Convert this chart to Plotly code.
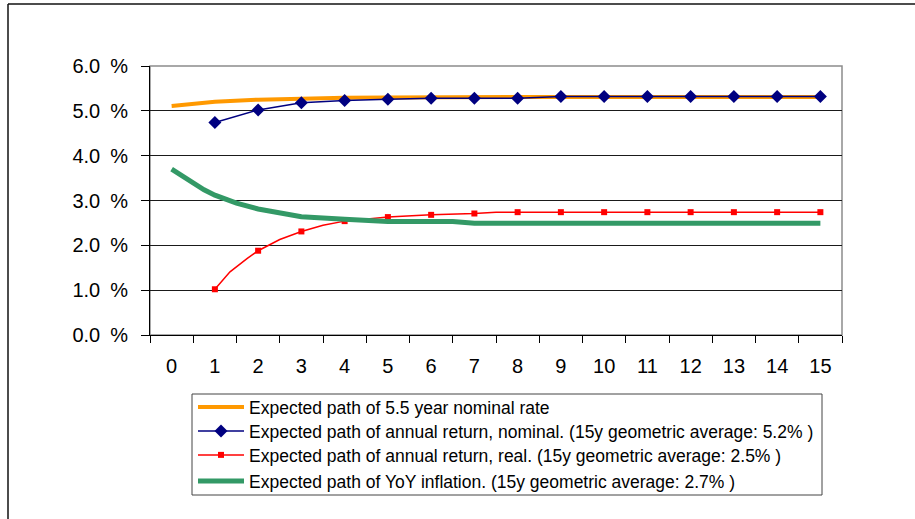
import plotly.graph_objects as go

# ---- data (years ahead, percent) ----
categories = list(range(0, 16))
tick_labels = [str(c) for c in categories]
y_tick_vals = [0, 1, 2, 3, 4, 5, 6]
y_tick_text = ["0.0\u2002%", "1.0\u2002%", "2.0\u2002%", "3.0\u2002%",
               "4.0\u2002%", "5.0\u2002%", "6.0\u2002%"]

nominal_rate_x = [0, 1, 2, 3, 4, 5, 6, 7, 8, 9, 10, 11, 12, 13, 14, 15]
nominal_rate_y = [5.11, 5.20, 5.25, 5.28, 5.29, 5.30, 5.31, 5.31, 5.31, 5.31,
                  5.31, 5.31, 5.31, 5.31, 5.31, 5.31]

return_nominal_x = [1, 2, 3, 4, 5, 6, 7, 8, 9, 10, 11, 12, 13, 14, 15]
return_nominal_y = [4.74, 5.02, 5.18, 5.23, 5.26, 5.28, 5.28, 5.28, 5.32, 5.32,
                    5.32, 5.32, 5.32, 5.32, 5.32]

return_real_path_x = [1, 1.35, 1.75, 2, 2.5, 3, 3.5, 4, 5, 6, 7, 7.5, 8, 15]
return_real_path_y = [1.02, 1.41, 1.71, 1.88, 2.13, 2.31, 2.45, 2.54, 2.63, 2.68,
                      2.71, 2.74, 2.74, 2.74]
return_real_x = [1, 2, 3, 4, 5, 6, 7, 8, 9, 10, 11, 12, 13, 14, 15]
return_real_y = [1.02, 1.88, 2.31, 2.54, 2.63, 2.68, 2.71, 2.74, 2.74, 2.74,
                 2.74, 2.74, 2.74, 2.74, 2.74]

inflation_x = [0, 0.75, 1, 1.5, 2, 3, 4, 5, 6.5, 7, 15]
inflation_y = [3.70, 3.24, 3.12, 2.94, 2.81, 2.64, 2.58, 2.53, 2.53, 2.49, 2.49]

names = [
    "Expected path of 5.5 year nominal rate",
    "Expected path of annual return, nominal. (15y geometric average: 5.2% )",
    "Expected path of annual return, real. (15y geometric average: 2.5% )",
    "Expected path of YoY inflation. (15y geometric average: 2.7% )",
]

ORANGE = "#FF9900"
NAVY = "#000080"
RED = "#FF0000"
GREEN = "#339966"
FONT = "Liberation Sans"

fig = go.Figure()
fig.add_trace(go.Scatter(x=nominal_rate_x, y=nominal_rate_y, mode="lines",
                         line=dict(color=ORANGE, width=4), name=names[0],
                         legend="legend"))
fig.add_trace(go.Scatter(x=return_nominal_x, y=return_nominal_y, mode="lines+markers",
                         line=dict(color=NAVY, width=1.5),
                         marker=dict(symbol="diamond", size=10, color=NAVY),
                         name=names[1], legend="legend2"))
fig.add_trace(go.Scatter(x=[None], y=[None], mode="lines+markers",
                         line=dict(color=RED, width=1.5),
                         marker=dict(symbol="square", size=6, color=RED),
                         name=names[2], legend="legend3"))
fig.add_trace(go.Scatter(x=return_real_path_x, y=return_real_path_y, mode="lines",
                         line=dict(color=RED, width=1.5), showlegend=False,
                         hoverinfo="skip"))
fig.add_trace(go.Scatter(x=return_real_x, y=return_real_y, mode="markers",
                         marker=dict(symbol="square", size=6, color=RED),
                         showlegend=False))
fig.add_trace(go.Scatter(x=inflation_x, y=inflation_y, mode="lines",
                         line=dict(color=GREEN, width=5), name=names[3],
                         legend="legend4"))

W, H = 915, 519
L, R, T, B = 150, 73, 66, 184
pw, ph = W - L - R, H - T - B


def px_to_paper_x(px):
    return (px - L) / pw


def px_to_paper_y(py):
    return (H - B - py) / ph


shapes = [
    # plot area border (gray top/right)
    dict(type="rect", xref="paper", yref="paper", x0=0, y0=0, x1=1, y1=1,
         line=dict(color="#8c8c8c", width=1.5), layer="below"),
    # outer chart frame
    dict(type="line", xref="paper", yref="paper",
         x0=px_to_paper_x(8), y0=px_to_paper_y(4), x1=px_to_paper_x(930), y1=px_to_paper_y(4),
         line=dict(color="#111111", width=1.5)),
    dict(type="line", xref="paper", yref="paper",
         x0=px_to_paper_x(8), y0=px_to_paper_y(4), x1=px_to_paper_x(8), y1=px_to_paper_y(540),
         line=dict(color="#111111", width=1.5)),
    # legend box
    dict(type="rect", xref="paper", yref="paper",
         x0=px_to_paper_x(192), y0=px_to_paper_y(394), x1=px_to_paper_x(822), y1=px_to_paper_y(495),
         line=dict(color="#444444", width=1), fillcolor="white", layer="below"),
]

row_centers = [407, 431, 455, 481]
legend_common = dict(
    xanchor="left", yanchor="middle",
    font=dict(family=FONT, size=17.5, color="black"),
    borderwidth=0, bgcolor="rgba(0,0,0,0)", itemwidth=46,
)
legends = {}
for i, key in enumerate(["legend", "legend2", "legend3", "legend4"]):
    legends[key] = dict(x=px_to_paper_x(193), y=px_to_paper_y(row_centers[i]), **legend_common)

fig.update_layout(
    width=W, height=H,
    margin=dict(l=L, r=R, t=T, b=B, pad=0),
    paper_bgcolor="white", plot_bgcolor="white",
    font=dict(family=FONT, color="black"),
    showlegend=True,
    shapes=shapes,
    xaxis=dict(
        range=[-0.5, 15.5], tickmode="array", tickvals=categories, ticktext=tick_labels,
        ticks="outside", ticklen=13, tickcolor="rgba(0,0,0,0)",
        tickfont=dict(family=FONT, size=20, color="black"),
        showgrid=False, zeroline=False, showline=True, linecolor="black", linewidth=1,
        minor=dict(tickmode="array", tickvals=[c - 0.5 for c in categories] + [15.5],
                   ticks="outside", ticklen=7, tickcolor="black", tickwidth=1,
                   showgrid=False),
        fixedrange=True,
    ),
    yaxis=dict(
        range=[0, 6], tickmode="array", tickvals=y_tick_vals, ticktext=y_tick_text,
        ticks="outside", ticklen=8, tickcolor="black", ticklabelstandoff=9,
        tickfont=dict(family=FONT, size=20, color="black"),
        showgrid=True, gridcolor="#1a1a1a", gridwidth=1,
        zeroline=False, showline=True, linecolor="black", linewidth=1,
        fixedrange=True,
    ),
    **legends,
)

fig.write_html("out.html", config={"displayModeBar": False},
               post_script="document.body.style.margin='0';")
